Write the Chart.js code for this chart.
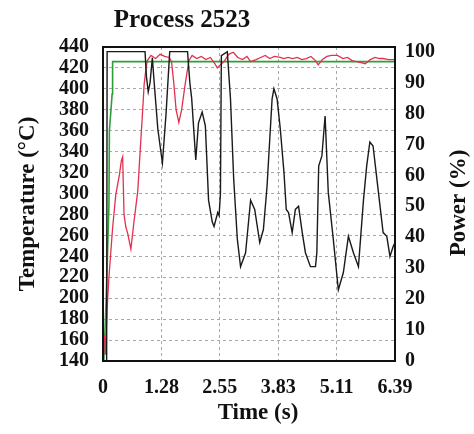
<!DOCTYPE html>
<html>
<head>
<meta charset="utf-8">
<script src="https://cdn.jsdelivr.net/npm/chart.js@4/dist/chart.umd.min.js"></script>
<style>
  html, body { margin: 0; padding: 0; background: #fff; }
</style>
</head>
<body>
<canvas id="myChart" width="474" height="434"></canvas>
<script>
// --- data ---
var titleText = 'Process 2523';
var xTitle = 'Time (s)';
var yTitle = 'Temperature (°C)';
var y2Title = 'Power (%)';

var xTickValues = [0, 1.278, 2.556, 3.834, 5.112, 6.39];
var xTickLabels = ['0', '1.28', '2.55', '3.83', '5.11', '6.39'];
var tempTicks = [140, 160, 180, 200, 220, 240, 260, 280, 300, 320, 340, 360, 380, 400, 420, 440];
var powerTicks = [0, 10, 20, 30, 40, 50, 60, 70, 80, 90, 100];

// power (%) - black
var powerTime = [0, 0.08, 0.09, 0.92, 0.95, 0.99, 1.03, 1.08, 1.12, 1.2, 1.3, 1.38, 1.46, 1.85, 1.9, 1.94, 2.03, 2.09, 2.17, 2.24, 2.31, 2.39, 2.43, 2.51, 2.54, 2.57, 2.59, 2.72, 2.79, 2.86, 2.94, 3.01, 3.12, 3.23, 3.32, 3.43, 3.51, 3.59, 3.7, 3.74, 3.81, 3.88, 3.96, 4.01, 4.06, 4.14, 4.21, 4.28, 4.36, 4.43, 4.54, 4.65, 4.68, 4.72, 4.79, 4.86, 4.93, 5.04, 5.15, 5.26, 5.37, 5.48, 5.59, 5.7, 5.77, 5.84, 5.91, 6.02, 6.13, 6.21, 6.28, 6.35, 6.39];
var powerValues = [0, 0, 100, 100, 92, 87, 90, 98, 90, 75, 64, 80, 100, 100, 90, 85, 65, 77, 80.5, 76, 52, 45, 43.5, 48, 47, 54, 98.7, 100, 84.7, 58.8, 39.3, 30.5, 35, 52, 49, 38.3, 42.5, 56.5, 84.7, 88, 84.7, 75, 61, 49, 48, 41.5, 49, 50, 41.5, 35, 30.5, 30.5, 35, 63, 66.3, 79.2, 54.5, 39.3, 23, 28.6, 40.3, 35, 30.5, 52, 63, 70.8, 69.5, 55.5, 41.5, 40.3, 33.8, 37, 38.3];

// measured temperature - red
var tempTime = [0.03, 0.05, 0.09, 0.13, 0.21, 0.28, 0.36, 0.4, 0.43, 0.46, 0.5, 0.54, 0.61, 0.68, 0.76, 0.8, 0.87, 0.9, 0.94, 0.97, 1.05, 1.15, 1.25, 1.35, 1.45, 1.5, 1.55, 1.6, 1.66, 1.72, 1.8, 1.88, 1.95, 2.05, 2.15, 2.25, 2.35, 2.45, 2.5, 2.57, 2.65, 2.75, 2.85, 2.95, 3.05, 3.15, 3.23, 3.35, 3.45, 3.55, 3.65, 3.75, 3.88, 3.95, 4.05, 4.15, 4.25, 4.35, 4.45, 4.55, 4.65, 4.71, 4.8, 4.9, 5.0, 5.13, 5.25, 5.35, 5.45, 5.55, 5.65, 5.74, 5.85, 5.95, 6.05, 6.13, 6.25, 6.39];
var tempValues = [165, 146, 190, 220, 267, 299, 318, 331, 335, 280, 268, 262, 247, 274, 302, 331, 381, 404, 419, 427, 432, 429, 433, 431, 430, 426, 405, 380, 368, 380, 405, 427, 432, 429, 431, 428, 430, 424, 420, 423, 426, 433, 435, 430, 428, 431, 426, 428, 430, 432, 429, 431, 430, 429, 430, 429, 430, 428, 429, 431, 427, 423, 428, 431, 432, 432, 429, 430, 427, 426, 425, 424, 428, 430, 429, 429, 428, 428];

// set point - green
var setTime = [0, 0.02, 0.07, 0.13, 0.14, 0.2, 0.21, 6.39];
var setValues = [140, 142, 200, 290, 360, 395, 426, 426];

function pts(xs, ys) {
  return xs.map(function (x, i) { return { x: x, y: ys[i] }; });
}

var serif = '"Liberation Serif", "Times New Roman", serif';

var textPlugin = {
  id: 'texts',
  afterDraw: function (chart) {
    var ctx = chart.ctx;
    var a = chart.chartArea;
    ctx.save();
    // frame round the plot
    ctx.strokeStyle = '#111';
    ctx.lineWidth = 2;
    ctx.strokeRect(a.left, a.top, a.right - a.left, a.bottom - a.top);
    ctx.fillStyle = '#111';
    ctx.textAlign = 'center';
    ctx.textBaseline = 'alphabetic';
    ctx.font = 'bold 25px ' + serif;
    ctx.fillText(titleText, 182, 27);
    ctx.font = 'bold 23px ' + serif;
    ctx.fillText(xTitle, 258, 419);
    ctx.translate(465, 203);
    ctx.rotate(-Math.PI / 2);
    ctx.fillText(y2Title, 0, 0);
    ctx.restore();
  }
};

var ctx = document.getElementById('myChart');

new Chart(ctx, {
  type: 'line',
  data: {
    datasets: [
      { label: 'Power', data: pts(powerTime, powerValues), yAxisID: 'y2', borderColor: '#1a1a1a', borderWidth: 1.4 },
      { label: 'Temperature', data: pts(tempTime, tempValues), yAxisID: 'y', borderColor: '#e2314f', borderWidth: 1.3 },
      { label: 'Set point', data: pts(setTime, setValues), yAxisID: 'y', borderColor: '#2f9e3a', borderWidth: 1.6 }
    ]
  },
  options: {
    responsive: false,
    animation: false,
    events: [],
    elements: { point: { radius: 0 }, line: { tension: 0 } },
    layout: { padding: { top: 47, left: 0, right: 0, bottom: 0 } },
    plugins: { legend: { display: false }, tooltip: { enabled: false } },
    scales: {
      x: {
        type: 'linear',
        min: 0,
        max: 6.39,
        afterFit: function (s) { s.height = 73; },
        afterBuildTicks: function (s) { s.ticks = xTickValues.map(function (v) { return { value: v }; }); },
        ticks: {
          autoSkip: false,
          maxRotation: 0,
          padding: 15,
          color: '#111',
          font: { family: serif, size: 20, weight: 'bold' },
          callback: function (v, i) { return xTickLabels[i]; }
        },
        grid: { color: '#a8a8a8', lineWidth: 1, drawTicks: false },
        border: { display: false, dash: [3, 3] }
      },
      y: {
        position: 'left',
        min: 140,
        max: 440,
        afterFit: function (s) { s.width = 103; },
        afterBuildTicks: function (s) { s.ticks = tempTicks.map(function (v) { return { value: v }; }); },
        ticks: {
          autoSkip: false,
          padding: 14,
          color: '#111',
          font: { family: serif, size: 20, weight: 'bold', lineHeight: 1 }
        },
        title: {
          display: true,
          text: yTitle,
          color: '#111',
          font: { family: serif, size: 23, weight: 'bold' },
          padding: { top: 14, bottom: 0 }
        },
        grid: { color: '#a8a8a8', lineWidth: 1, drawTicks: false },
        border: { display: false, dash: [3, 3] }
      },
      y2: {
        position: 'right',
        min: 0,
        max: 101.5,
        afterFit: function (s) { s.width = 79; },
        afterBuildTicks: function (s) { s.ticks = powerTicks.map(function (v) { return { value: v }; }); },
        ticks: {
          autoSkip: false,
          padding: 10,
          color: '#111',
          font: { family: serif, size: 20, weight: 'bold' }
        },
        grid: { display: false, drawTicks: false },
        border: { display: false }
      }
    }
  },
  plugins: [textPlugin]
});
</script>
</body>
</html>
